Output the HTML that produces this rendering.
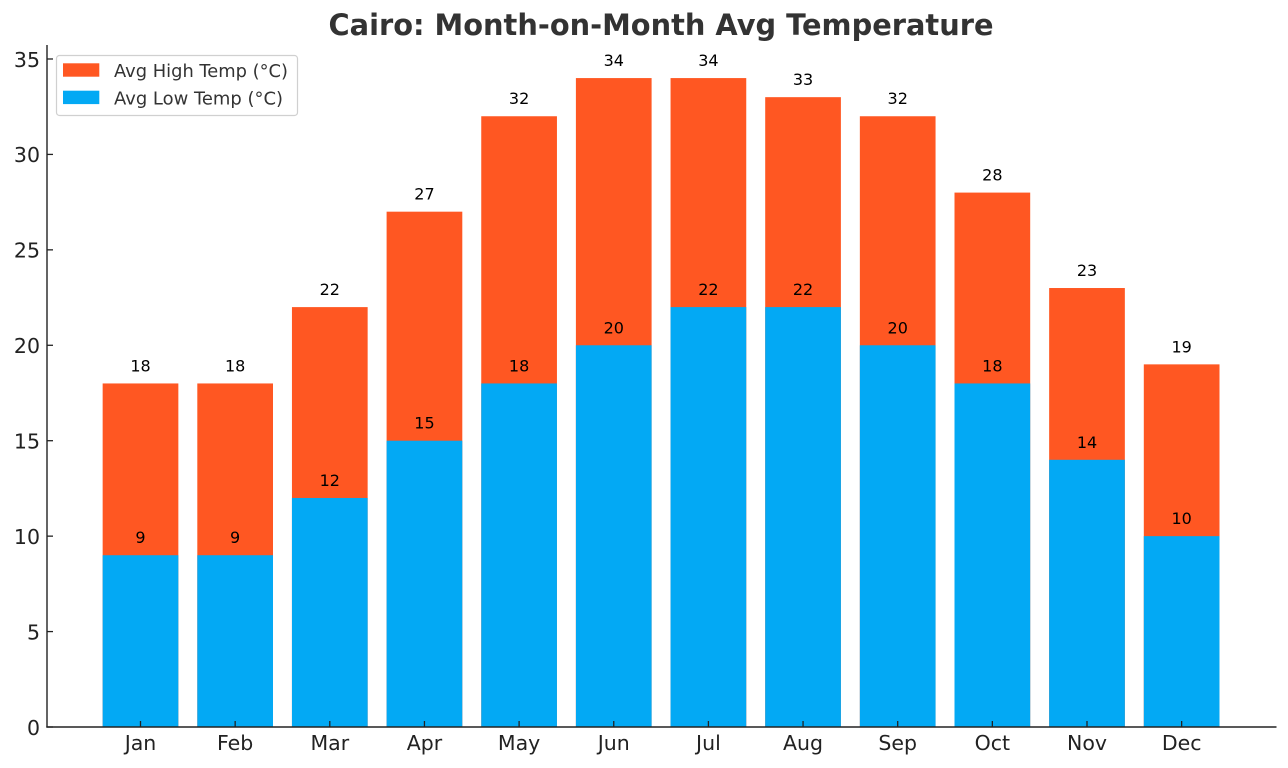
<!DOCTYPE html>
<html><head><meta charset="utf-8"><style>
html,body{margin:0;padding:0;background:#fff;}
svg{display:block;font-family:"DejaVu Sans","Liberation Sans",sans-serif;}
</style></head><body>
<svg width="1288" height="768" viewBox="0 0 1288 768" xmlns="http://www.w3.org/2000/svg">
<rect width="1288" height="768" fill="#fff"/>
<text x="661" y="35" text-anchor="middle" font-size="29" font-weight="bold" fill="#333" textLength="665" lengthAdjust="spacingAndGlyphs">Cairo: Month-on-Month Avg Temperature</text>
<g id="bars"></g>
<g id="labels" font-size="16" fill="#000" text-anchor="middle"></g>
<!-- spines -->
<line x1="47" y1="45" x2="47" y2="727.5" stroke="#222" stroke-width="1.4"/>
<line x1="46.3" y1="727" x2="1276.5" y2="727" stroke="#222" stroke-width="1.4"/>
<g id="ticks" stroke="#222" stroke-width="1.3"></g>
<g id="ylab" font-size="20.5" fill="#222" text-anchor="end"></g>
<g id="xlab" font-size="20.5" fill="#222" text-anchor="middle"></g>
<!-- legend -->
<rect x="56.5" y="55.5" width="241" height="60" rx="3" fill="#fff" fill-opacity="0.85" stroke="#d0d0d0" stroke-width="1.2"/>
<rect x="63" y="63.3" width="36.3" height="13.4" fill="#FF5722"/>
<rect x="63" y="90.7" width="36.3" height="13.4" fill="#03A9F4"/>
<text x="114" y="77" font-size="17.5" fill="#333" textLength="174" lengthAdjust="spacingAndGlyphs">Avg High Temp (°C)</text>
<text x="114" y="104.3" font-size="17.5" fill="#333" textLength="169" lengthAdjust="spacingAndGlyphs">Avg Low Temp (°C)</text>
</svg>
<script>
(function(){
var NS="http://www.w3.org/2000/svg";
var high=[18,18,22,27,32,34,34,33,32,28,23,19];
var low=[9,9,12,15,18,20,22,22,20,18,14,10];
var months=["Jan","Feb","Mar","Apr","May","Jun","Jul","Aug","Sep","Oct","Nov","Dec"];
var y0=727,k=19.086,x0=140.5,dx=94.65,w=75.7;
function el(t,a,p,txt){var e=document.createElementNS(NS,t);for(var n in a)e.setAttribute(n,a[n]);if(txt!=null)e.textContent=txt;p.appendChild(e);return e;}
var bars=document.getElementById("bars"),labs=document.getElementById("labels"),ticks=document.getElementById("ticks"),yl=document.getElementById("ylab"),xl=document.getElementById("xlab");
for(var i=0;i<12;i++){
 var cx=x0+dx*i;
 var th=y0-high[i]*k, tl=y0-low[i]*k;
 el("rect",{x:cx-w/2,y:th,width:w,height:y0-th,fill:"#FF5722"},bars);
 el("rect",{x:cx-w/2,y:tl,width:w,height:y0-tl,fill:"#03A9F4"},bars);
 el("text",{x:cx,y:th-12},labs,String(high[i]));
 el("text",{x:cx,y:tl-12},labs,String(low[i]));
 el("line",{x1:cx,y1:721,x2:cx,y2:727},ticks);
 el("text",{x:cx,y:750},xl,months[i]);
}
for(var v=0;v<=35;v+=5){
 var y=y0-v*k;
 el("line",{x1:47,y1:y,x2:53,y2:y},ticks);
 el("text",{x:40,y:y+7.8},yl,String(v));
}
})();
</script>
</body></html>
